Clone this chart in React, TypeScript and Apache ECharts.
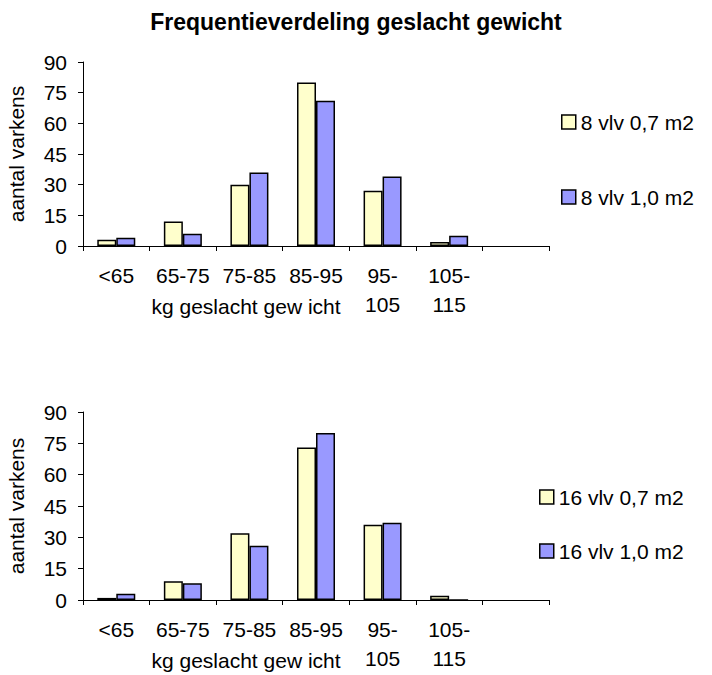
import React, { useEffect, useRef } from "react";
import * as echarts from "echarts";

const categories = ["<65", "65-75", "75-85", "85-95", "95-\n105", "105-\n115", ""];
const topYellow = [3, 12, 30, 80, 27, 2];
const topBlue = [4, 6, 36, 71, 34, 5];
const bottomYellow = [1, 9, 32, 73, 36, 2];
const bottomBlue = [3, 8, 26, 80, 37, 0];
const seriesNames = ["8 vlv 0,7 m2", "8 vlv 1,0 m2", "16 vlv 0,7 m2", "16 vlv 1,0 m2"];
const titleText = "Frequentieverdeling geslacht gewicht";
const xName = "kg geslacht gew icht";
const yName = "aantal varkens";

const FONT = "'Liberation Sans', Arial, sans-serif";
const YELLOW = "#FFFFCC";
const BLUE = "#9999FF";

export default function App() {
  const ref = useRef<HTMLDivElement>(null);
  useEffect(() => {
    if (!ref.current) return;
    const chart = echarts.init(ref.current, null, { renderer: "svg" });
    const grids = [
      { left: 83, right: 163, top: 62, height: 184, outerBoundsMode: "none", containLabel: false },
      { left: 83, right: 163, top: 412, height: 188, outerBoundsMode: "none", containLabel: false },
    ];
    const makeX = (i: number) => ({
      type: "category",
      gridIndex: i,
      data: categories,
      boundaryGap: true,
      axisLine: { lineStyle: { color: "#000", width: 1 } },
      axisTick: { show: true, length: 5, lineStyle: { color: "#000" } },
      axisLabel: {
        color: "#000",
        fontSize: 21,
        fontFamily: FONT,
        margin: 15,
        lineHeight: 29,
        interval: 0,
      },
      name: xName,
      nameLocation: "middle",
      nameGap: 50,
      nameMoveOverlap: false,
      nameTextStyle: {
        color: "#000",
        fontSize: 21,
        fontFamily: FONT,
        padding: [0, 140, 0, 0],
      },
    });
    const makeY = (i: number) => ({
      type: "value",
      gridIndex: i,
      min: 0,
      max: 90,
      interval: 15,
      splitLine: { show: false },
      axisLine: { show: true, lineStyle: { color: "#000", width: 1 } },
      axisTick: { show: true, length: 5, lineStyle: { color: "#000" } },
      axisLabel: { color: "#000", fontSize: 21, fontFamily: FONT, margin: 16 },
      name: yName,
      nameLocation: "middle",
      nameGap: 56,
      nameRotate: 90,
      nameMoveOverlap: false,
      nameTextStyle: { color: "#000", fontSize: 21, fontFamily: FONT },
    });
    const barStyle = (color: string) => ({
      color,
      borderColor: "#000",
      borderWidth: 1.5,
    });
    const makeSeries = (name: string, data: number[], i: number, color: string) => ({
      name,
      type: "bar",
      xAxisIndex: i,
      yAxisIndex: i,
      data,
      barWidth: 19,
      barGap: "0%",
      itemStyle: barStyle(color),
    });
    const legendPos = [
      { left: 561, top: 111 },
      { left: 561, top: 186 },
      { left: 539, top: 486 },
      { left: 539, top: 540 },
    ];
    const colors = [YELLOW, BLUE, YELLOW, BLUE];
    chart.setOption({
      animation: false,
      backgroundColor: "#fff",
      title: {
        text: titleText,
        left: "center",
        top: 5,
        textStyle: { color: "#000", fontSize: 23, fontWeight: "bold", fontFamily: FONT },
      },
      grid: grids,
      xAxis: [makeX(0), makeX(1)],
      yAxis: [makeY(0), makeY(1)],
      legend: seriesNames.map((n, k) => ({
        data: [n],
        left: legendPos[k].left,
        top: legendPos[k].top,
        padding: 0,
        icon: "rect",
        itemWidth: 14,
        itemHeight: 14,
        selectedMode: false,
        itemStyle: { color: colors[k], borderColor: "#000", borderWidth: 1.5 },
        textStyle: { color: "#000", fontSize: 21, fontFamily: FONT, lineHeight: 22 },
      })),
      series: [
        makeSeries(seriesNames[0], topYellow, 0, YELLOW),
        makeSeries(seriesNames[1], topBlue, 0, BLUE),
        makeSeries(seriesNames[2], bottomYellow, 1, YELLOW),
        makeSeries(seriesNames[3], bottomBlue, 1, BLUE),
      ],
    });
    return () => chart.dispose();
  }, []);
  return (
    <div
      ref={ref}
      style={{ position: "fixed", left: 0, top: 0, width: 712, height: 675 }}
    />
  );
}
